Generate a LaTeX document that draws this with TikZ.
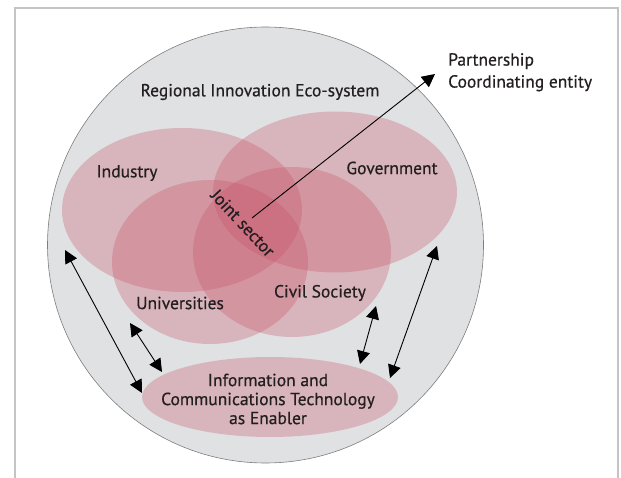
\documentclass[tikz,border=0pt]{standalone}
\usepackage{fontspec}
\setmainfont{PT Sans}
\newfontfamily\lblfont{PT Sans}[FakeBold=0.6]
\usetikzlibrary{arrows.meta,shapes.geometric}
\definecolor{framegray}{RGB}{196,196,198}
\definecolor{eco}{RGB}{224,225,227}
\definecolor{ecoedge}{RGB}{125,125,127}
\definecolor{petal}{RGB}{200,80,100}
\definecolor{ink}{RGB}{35,31,32}
\begin{document}
\begin{tikzpicture}[x=1pt,y=-1pt,
  lbl/.style={font=\lblfont\fontsize{17.5}{19}\selectfont, text=ink, inner sep=0pt},
  petalshape/.style={ellipse, fill=petal, fill opacity=0.3, draw=none, inner sep=0pt},
  link/.style={draw=black, line width=0.9pt},
  tip/.style={-{Triangle[length=13pt,width=13pt]}},
  tips/.style={{Triangle[length=13pt,width=13pt]}-{Triangle[length=13pt,width=13pt]}}]
\useasboundingbox (0,0) rectangle (621,478);
% frame
\draw[framegray, line width=2pt] (15,478) -- (15,8) -- (618,8) -- (618,478);
% eco-system circle
\node[circle, fill=eco, draw=ecoedge, line width=0.6pt, minimum size=436pt, inner sep=0pt] (eco) at (265.5,245) {};
% petals
\node[petalshape, minimum width=240pt, minimum height=164pt] (ind) at (182,210) {};
\node[petalshape, minimum width=244pt, minimum height=161pt] (gov) at (335,192) {};
\node[petalshape, minimum width=196pt, minimum height=164pt] (uni) at (210,262) {};
\node[petalshape, minimum width=198pt, minimum height=170pt] (civ) at (292,252) {};
\node[petalshape, minimum width=256pt, minimum height=80pt] (ict) at (270,397) {};
% labels
\node[lbl] (ecotxt) at (260,92) {Regional Innovation Eco-system};
\node[lbl, anchor=north west, align=left, font=\lblfont\fontsize{17.5}{22}\selectfont] (pce) at (448,53) {Partnership\\Coordinating entity};
\node[lbl] (indtxt) at (127,173) {Industry};
\node[lbl] (govtxt) at (392,168) {Government};
\node[lbl] (unitxt) at (180,303) {Universities};
\node[lbl] (civtxt) at (320,293) {Civil Society};
\node[lbl, rotate=-47] (joint) at (243,223) {Joint sector};
\node[lbl, align=center] (icttxt) at (268,399) {Information and\\Communications Technology\\as Enabler};
% connector ends
\coordinate (pA) at (252,218);
\coordinate (pB) at (435,74);
\coordinate (a1) at (65,250);
\coordinate (a2) at (142,393);
\coordinate (b1) at (130,323);
\coordinate (b2) at (162,372);
\coordinate (c1) at (376,306);
\coordinate (c2) at (360,364);
\coordinate (d1) at (437,246);
\coordinate (d2) at (390,378);
% connectors
\draw[link, tip] (pA) -- (pB);
\draw[link, tips] (a1) -- (a2);
\draw[link, tips] (b1) -- (b2);
\draw[link, tips] (c1) -- (c2);
\draw[link, tips] (d1) -- (d2);
\end{tikzpicture}
\end{document}
